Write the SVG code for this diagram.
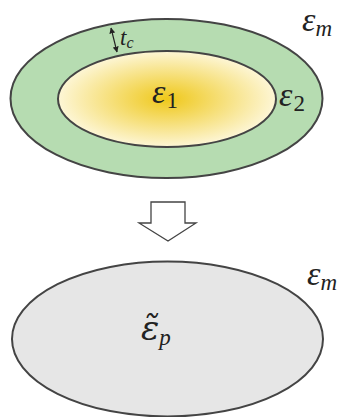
<svg xmlns="http://www.w3.org/2000/svg" width="351" height="417" viewBox="0 0 351 417">
<style>
.math{font-family:"Liberation Serif","DejaVu Serif",serif;font-style:italic;fill:#222}
.sub{font-style:normal}
.edge{stroke:#444;stroke-width:2}
</style>
<defs>
<radialGradient id="yg" cx="0.5" cy="0.5" r="0.5">
<stop offset="0" stop-color="#efc81a"/>
<stop offset="1" stop-color="#fdf6d6"/>
</radialGradient>
<marker id="ah" viewBox="0 0 10 10" refX="9" refY="5" markerWidth="5" markerHeight="5" orient="auto-start-reverse">
<path d="M0,0 L10,5 L0,10 z" fill="#222"/>
</marker>
</defs>
<rect width="351" height="417" fill="#fff"/>
<g id="outer">
<ellipse cx="166.5" cy="98.5" rx="156" ry="79.5" fill="#b6dcb1" class="edge"/>
</g>
<g id="inner">
<ellipse cx="167" cy="99" rx="109" ry="48" fill="url(#yg)" class="edge"/>
</g>
<g id="bottom">
<ellipse cx="167.5" cy="339" rx="155.5" ry="77.5" fill="#e6e6e6" class="edge"/>
</g>
<g id="connectors">
<line x1="111" y1="28" x2="117" y2="52" stroke="#222" stroke-width="1.2" marker-start="url(#ah)" marker-end="url(#ah)"/>
<path d="M151,202 H185 V223 H196 L168,241 L139,223 H151 Z" fill="#fff" stroke="#444" stroke-width="1.3"/>
</g>
<g id="labels">
<text class="math" x="302" y="31" font-size="34">ε<tspan font-size="23" dy="5">m</tspan></text>
<text class="math" x="120" y="45" font-size="23">t<tspan font-size="16" dy="3">c</tspan></text>
<text class="math" x="152" y="103" font-size="34">ε<tspan class="sub" font-size="23" dy="5" dx="1">1</tspan></text>
<text class="math" x="279" y="106" font-size="34">ε<tspan class="sub" font-size="23" dy="5" dx="1">2</tspan></text>
<text class="math" x="307" y="285" font-size="34">ε<tspan font-size="23" dy="5">m</tspan></text>
<text class="math" x="141" y="340" font-size="34" style="font-family:'DejaVu Serif',serif">ε̃<tspan font-size="23" dy="5" style="font-family:'Liberation Serif',serif">p</tspan></text>
</g>
</svg>
